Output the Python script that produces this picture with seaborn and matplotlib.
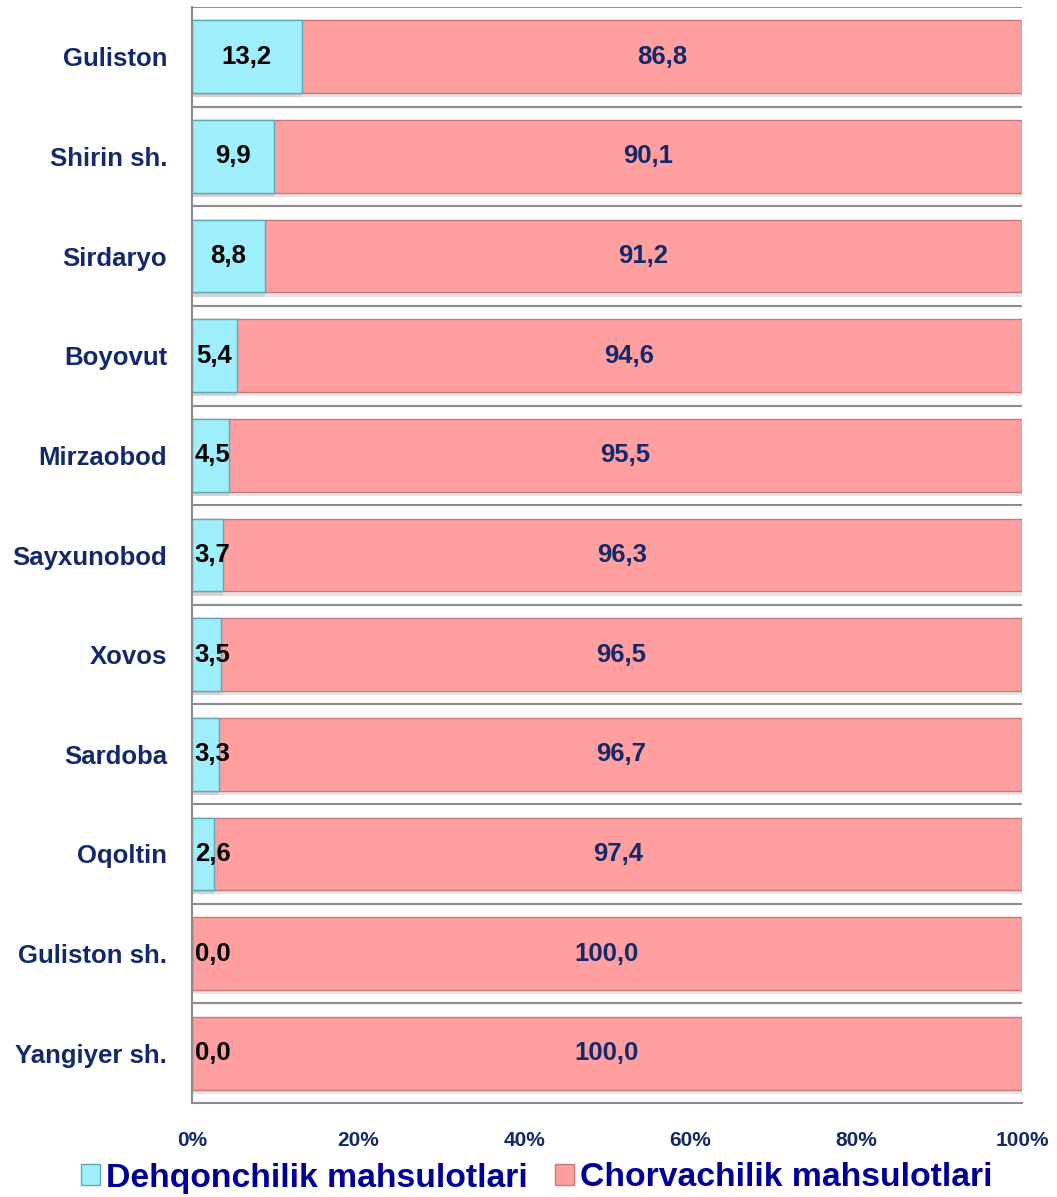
import numpy as np
import pandas as pd
import matplotlib
matplotlib.use("Agg")
import matplotlib.pyplot as plt
import matplotlib.patheffects as pe
from matplotlib.patches import Patch
import seaborn as sns

# Data
districts = ['Guliston', 'Shirin sh.', 'Sirdaryo', 'Boyovut', 'Mirzaobod', 'Sayxunobod',
             'Xovos', 'Sardoba', 'Oqoltin', 'Guliston sh.', 'Yangiyer sh.']
dehqon = [13.2, 9.9, 8.8, 5.4, 4.5, 3.7, 3.5, 3.3, 2.6, 0.0, 0.0]
chorva = [86.8, 90.1, 91.2, 94.6, 95.5, 96.3, 96.5, 96.7, 97.4, 100.0, 100.0]
series_names = ['Dehqonchilik mahsulotlari', 'Chorvachilik mahsulotlari']
xticks = [0, 20, 40, 60, 80, 100]

df = pd.DataFrame({'district': districts, 'dehqon': dehqon, 'chorva': chorva})
df['total'] = df['dehqon'] + df['chorva']

sns.set_style("white")
plt.rcParams['font.family'] = ['Liberation Sans', 'DejaVu Sans']

navy = '#13296b'
cyan = '#9eeefc'
pink = '#ff9f9f'
grey = '#8c8c8c'

fig = plt.figure(figsize=(10.57, 11.97), dpi=100)
ax = fig.add_axes([192 / 1057, 1 - 1103 / 1197, 830 / 1057, 1096 / 1197])

# stacked: total first (pink), then dehqonchilik share over it (cyan)
sns.barplot(data=df, x='total', y='district', color=pink, orient='h', width=0.73,
            edgecolor='#c87878', linewidth=1, ax=ax, saturation=1)
sns.barplot(data=df, x='dehqon', y='district', color=cyan, orient='h', width=0.73,
            edgecolor='#5aaabb', linewidth=1, ax=ax, saturation=1)

for p in ax.patches:
    p.set_path_effects([pe.SimplePatchShadow(offset=(0, -3), shadow_rgbFace='#aaaaaa', alpha=0.3),
                        pe.Normal()])

# value labels
for i, row in df.iterrows():
    ax.text(max(row['dehqon'] / 2, 2.5), i, f"{row['dehqon']:.1f}".replace('.', ','),
            ha='center', va='center', fontsize=18.5, fontweight='bold', color='black', zorder=5)
    ax.text(row['dehqon'] + row['chorva'] / 2, i, f"{row['chorva']:.1f}".replace('.', ','),
            ha='center', va='center', fontsize=18.5, fontweight='bold', color=navy, zorder=5)

ax.set_xlim(0, 100)
ax.set_ylim(len(districts) - 0.5, -0.5)
ax.set_xticks(xticks)
ax.set_xticklabels([f'{t}%' for t in xticks], fontsize=15, fontweight='bold', color=navy)
ax.set_yticks(range(len(districts)))
ax.set_yticklabels(districts, fontsize=18.5, fontweight='bold', color=navy)
ax.set_yticks(np.arange(-0.5, len(districts), 1), minor=True)
ax.set_xlabel('')
ax.set_ylabel('')

ax.tick_params(axis='y', which='major', length=0, pad=18)
ax.tick_params(axis='y', which='minor', length=9, width=1.5, color=grey, direction='out')
ax.tick_params(axis='x', which='major', length=5, width=1.5, color=grey, direction='out', pad=15)
ax.grid(axis='y', which='minor', color=grey, linewidth=1.5)
ax.grid(axis='x', visible=False)
ax.set_axisbelow(True)

for s in ['top', 'right']:
    ax.spines[s].set_visible(False)
for s in ['left', 'bottom']:
    ax.spines[s].set_color(grey)
    ax.spines[s].set_linewidth(1.5)

handles = [Patch(facecolor=cyan, edgecolor='#5aaabb'), Patch(facecolor=pink, edgecolor='#c87878')]
leg = fig.legend(handles, series_names, loc='center', bbox_to_anchor=(0.508, 1 - 1178 / 1197),
                 ncol=2, frameon=False, handlelength=0.55, handleheight=0.55,
                 handletextpad=0.2, columnspacing=0.8,
                 prop={'size': 24.3, 'weight': 'bold'})
for t in leg.get_texts():
    t.set_color('#000099')

fig.savefig('out.png', dpi=100)
